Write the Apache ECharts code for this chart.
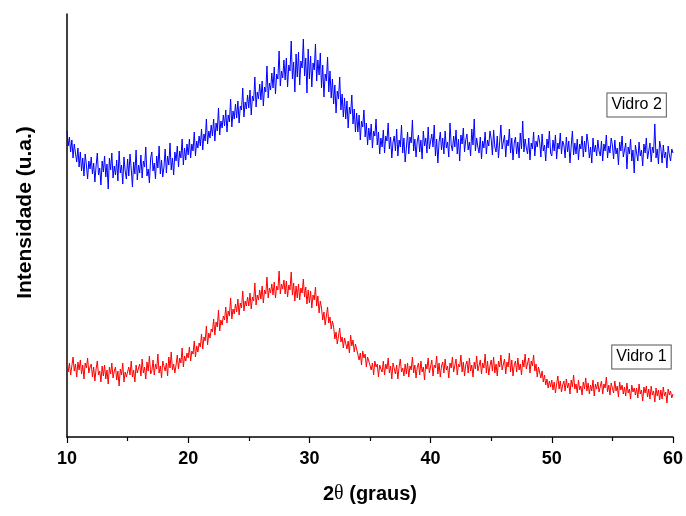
<!DOCTYPE html>
<html>
<head>
<meta charset="utf-8">
<script src="https://cdn.jsdelivr.net/npm/echarts@6/dist/echarts.min.js"></script>
<style>
  html, body { margin: 0; padding: 0; background: #ffffff; }
  #xrd_chart { width: 686px; height: 516px; }
</style>
</head>
<body>
<div id="xrd_chart"></div>
<script>
// 2theta from 10 to 60, step 0.1
var thetaStart = 10;
var thetaStep = 0.1;

// Vidro 2 (blue), intensity in arbitrary units, one row per degree
var vidro2 = [
  306, 291, 300, 285, 297, 279, 293, 284, 275, 289,
  270, 285, 266, 279, 261, 283, 272, 258, 276, 268,
  280, 263, 274, 255, 271, 284, 262, 269, 252, 276,
  265, 281, 260, 273, 248, 279, 267, 284, 259, 271,
  262, 277, 256, 286, 264, 272, 253, 280, 266, 258,
  278, 261, 283, 268, 250, 275, 263, 287, 257, 272,
  264, 282, 259, 276, 270, 290, 261, 268, 254, 279,
  285, 266, 274, 258, 281, 269, 291, 263, 277, 260,
  270, 288, 264, 281, 272, 294, 267, 279, 262, 285,
  276, 291, 270, 286, 279, 298, 272, 289, 277, 293,
  282, 298, 279, 293, 286, 305, 281, 296, 289, 301,
  291, 308, 287, 303, 296, 318, 293, 306, 299, 312,
  301, 318, 296, 314, 306, 329, 302, 316, 309, 322,
  311, 327, 305, 322, 315, 338, 310, 326, 318, 333,
  319, 336, 314, 331, 327, 349, 320, 335, 328, 342,
  329, 347, 322, 341, 336, 360, 330, 345, 338, 353,
  337, 356, 331, 350, 345, 371, 339, 354, 347, 364,
  349, 370, 343, 363, 358, 386, 351, 366, 359, 377,
  357, 379, 350, 372, 366, 396, 358, 375, 345, 383,
  360, 385, 352, 376, 369, 398, 361, 379, 344, 388,
  358, 381, 350, 374, 367, 393, 356, 377, 362, 384,
  349, 372, 340, 363, 356, 380, 345, 366, 339, 358,
  333, 352, 324, 346, 338, 360, 327, 343, 320, 339,
  318, 336, 309, 330, 323, 342, 313, 328, 305, 324,
  305, 322, 297, 316, 310, 327, 300, 314, 292, 309,
  297, 313, 289, 306, 301, 318, 292, 305, 283, 299,
  290, 307, 284, 301, 296, 314, 288, 300, 279, 295,
  301, 286, 308, 281, 297, 290, 312, 284, 299, 275,
  289, 305, 283, 300, 294, 317, 286, 298, 280, 296,
  302, 285, 297, 278, 306, 291, 299, 284, 310, 288,
  286, 303, 290, 312, 281, 298, 274, 295, 305, 287,
  299, 283, 306, 289, 295, 280, 314, 292, 286, 301,
  290, 307, 283, 298, 276, 302, 293, 309, 285, 297,
  303, 287, 295, 281, 308, 292, 318, 286, 299, 290,
  284, 300, 278, 296, 289, 305, 283, 297, 291, 306,
  298, 282, 307, 290, 285, 301, 279, 295, 312, 288,
  286, 302, 280, 297, 291, 308, 284, 299, 277, 294,
  300, 283, 295, 279, 304, 288, 316, 285, 298, 289,
  283, 299, 277, 294, 288, 305, 281, 296, 290, 302,
  295, 280, 303, 286, 292, 276, 298, 289, 306, 284,
  281, 297, 286, 302, 278, 294, 288, 304, 283, 296,
  292, 279, 300, 285, 296, 274, 291, 306, 282, 294,
  283, 298, 277, 293, 288, 301, 280, 296, 285, 303,
  294, 279, 290, 274, 299, 285, 292, 281, 297, 286,
  281, 296, 276, 293, 286, 302, 279, 291, 284, 299,
  292, 278, 297, 283, 289, 272, 295, 286, 301, 280,
  279, 294, 268, 290, 283, 298, 276, 287, 264, 292,
  290, 276, 295, 281, 287, 271, 293, 284, 299, 278,
  280, 294, 275, 290, 284, 313, 279, 288, 273, 296,
  289, 274, 292, 279, 285, 269, 291, 282, 276, 288,
  284
];

// Vidro 1 (red)
var vidro1 = [
  78, 65, 74, 62, 71, 80, 66, 73, 60, 75,
  67, 77, 63, 72, 58, 74, 69, 79, 64, 70,
  73, 60, 70, 56, 68, 76, 62, 66, 55, 71,
  61, 72, 58, 67, 53, 70, 63, 74, 59, 66,
  70, 57, 66, 51, 68, 62, 74, 55, 65, 60,
  58, 70, 62, 76, 60, 67, 55, 72, 64, 69,
  73, 61, 78, 64, 70, 58, 75, 66, 81, 63,
  66, 77, 62, 73, 68, 83, 64, 71, 59, 76,
  78, 66, 74, 61, 80, 69, 85, 67, 73, 64,
  72, 82, 68, 79, 74, 89, 70, 81, 76, 84,
  79, 90, 76, 86, 83, 96, 80, 91, 85, 94,
  90, 103, 88, 100, 96, 111, 92, 104, 99, 108,
  105, 118, 102, 115, 110, 127, 106, 117, 112, 121,
  117, 130, 114, 126, 121, 139, 118, 128, 123, 133,
  125, 138, 122, 134, 129, 146, 126, 136, 131, 140,
  131, 144, 128, 140, 136, 154, 132, 142, 137, 147,
  138, 151, 134, 147, 143, 160, 139, 149, 144, 153,
  142, 155, 139, 151, 147, 166, 143, 153, 148, 157,
  143, 156, 140, 152, 147, 165, 142, 154, 136, 151,
  139, 153, 137, 149, 144, 158, 140, 150, 133, 147,
  134, 146, 129, 142, 137, 150, 131, 141, 124, 136,
  129, 117, 125, 112, 121, 130, 114, 120, 108, 116,
  110, 98, 105, 93, 101, 109, 95, 100, 89, 99,
  99, 88, 96, 84, 102, 91, 97, 85, 93, 88,
  88, 77, 84, 72, 86, 79, 83, 70, 80, 76,
  78, 67, 74, 62, 76, 70, 73, 60, 72, 68,
  65, 76, 62, 73, 68, 79, 64, 71, 58, 74,
  75, 63, 72, 58, 70, 78, 65, 69, 61, 73,
  63, 74, 60, 71, 67, 80, 64, 72, 59, 70,
  74, 62, 76, 65, 70, 57, 73, 68, 79, 64,
  66, 77, 61, 72, 69, 81, 63, 74, 60, 71,
  75, 64, 78, 67, 71, 59, 74, 69, 80, 65,
  67, 78, 62, 73, 70, 82, 65, 75, 61, 72,
  76, 64, 79, 66, 72, 60, 75, 68, 81, 66,
  65, 77, 63, 74, 69, 83, 64, 76, 62, 71,
  77, 66, 80, 64, 73, 61, 76, 70, 82, 67,
  66, 78, 63, 75, 70, 84, 65, 77, 61, 72,
  76, 65, 79, 67, 73, 62, 77, 70, 83, 68,
  67, 79, 64, 76, 71, 82, 66, 73, 60, 70,
  68, 59, 66, 55, 62, 52, 58, 49, 56, 50,
  57, 47, 55, 44, 53, 61, 48, 56, 45, 52,
  56, 46, 58, 49, 54, 43, 57, 50, 62, 48,
  53, 44, 57, 47, 51, 42, 55, 48, 59, 46,
  54, 43, 52, 46, 57, 41, 53, 48, 55, 45,
  47, 56, 43, 53, 49, 60, 45, 52, 42, 54,
  53, 44, 56, 46, 51, 40, 55, 47, 52, 43,
  50, 41, 54, 44, 48, 38, 52, 45, 49, 42,
  49, 39, 53, 43, 47, 36, 50, 44, 51, 40,
  48, 38, 51, 42, 46, 35, 49, 41, 47, 37,
  47, 38, 50, 41, 45, 34, 48, 42, 46, 39,
  43
];

// curve labels: [text, 2theta, intensity]
var curveLabels = [
  ["Vidro 2", 57.0, 332],
  ["Vidro 1", 57.4, 80]
];

function toPairs(values) {
  return values.map(function (v, i) {
    return [+(thetaStart + i * thetaStep).toFixed(1), v];
  });
}

function labelPoint(lbl) {
  return {
    symbol: "rect",
    symbolSize: 0,
    silent: true,
    label: {
      show: true,
      position: "inside",
      color: "#000000",
      fontFamily: "Liberation Sans",
      fontSize: 16,
      backgroundColor: "#ffffff",
      borderColor: "#555555",
      borderWidth: 1,
      padding: [4, 4, 3, 4],
      formatter: lbl[0]
    },
    data: [{ coord: [lbl[1], lbl[2]] }]
  };
}

var xrdChart = echarts.init(document.getElementById("xrd_chart"));

var xrdOptions = {
  backgroundColor: "#ffffff",
  animation: false,
  grid: {
    left: 67,
    right: 13,
    top: 14,
    bottom: 79
  },
  xAxis: {
    type: "value",
    min: 10,
    max: 60,
    interval: 10,
    name: "2{t|θ} (graus)",
    nameLocation: "middle",
    nameGap: 47,
    nameTextStyle: {
      color: "#000000",
      fontFamily: "Liberation Sans",
      fontWeight: "bold",
      fontSize: 20,
      rich: {
        t: { fontFamily: "Liberation Serif", fontWeight: "normal", fontSize: 20, color: "#000000" }
      }
    },
    axisLine: { lineStyle: { color: "#000000", width: 1.5 } },
    axisTick: { inside: false, length: 6, lineStyle: { color: "#000000", width: 1.2 } },
    minorTick: { show: true, splitNumber: 2, length: 4, lineStyle: { color: "#000000", width: 1.2 } },
    axisLabel: {
      color: "#000000",
      fontFamily: "Liberation Sans",
      fontWeight: "bold",
      fontSize: 18,
      margin: 13
    },
    splitLine: { show: false }
  },
  yAxis: {
    type: "value",
    min: 0,
    max: 423,
    name: "Intensidade (u.a.)",
    nameLocation: "middle",
    nameRotate: 90,
    nameGap: 31,
    nameTextStyle: {
      color: "#000000",
      fontFamily: "Liberation Sans",
      fontWeight: "bold",
      fontSize: 21,
      padding: [0, 0, 0, 26]
    },
    axisLine: { show: true, lineStyle: { color: "#000000", width: 1.5 } },
    axisTick: { show: false },
    axisLabel: { show: false },
    splitLine: { show: false }
  },
  series: [
    {
      type: "line",
      name: "Vidro 2",
      showSymbol: false,
      lineStyle: { color: "#0000ff", width: 1 },
      data: toPairs(vidro2),
      markPoint: labelPoint(curveLabels[0])
    },
    {
      type: "line",
      name: "Vidro 1",
      showSymbol: false,
      lineStyle: { color: "#ff0000", width: 1 },
      data: toPairs(vidro1),
      markPoint: labelPoint(curveLabels[1])
    }
  ]
};

xrdChart.setOption(xrdOptions);
</script>
</body>
</html>
